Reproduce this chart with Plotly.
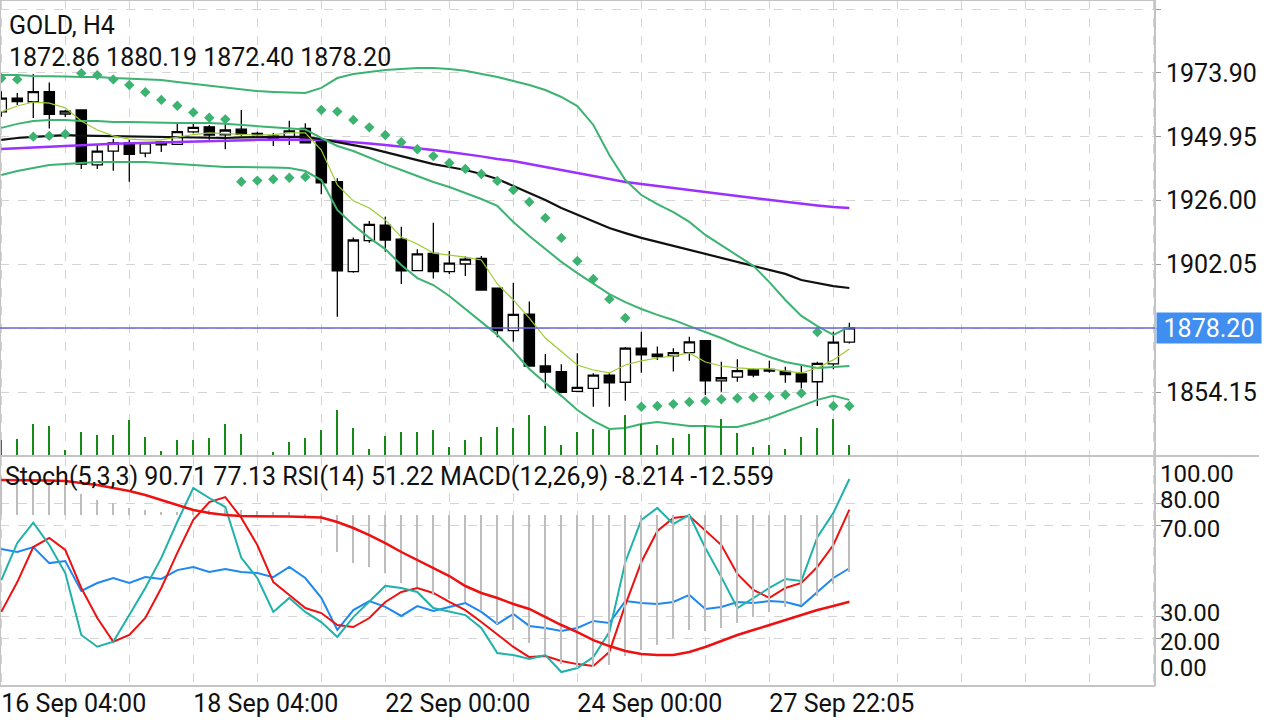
import plotly.graph_objects as go

# ---------------- data ----------------
idx = list(range(54))
opens = [1959.3,1964.5,1963.1,1966.9,1958.5,1960.0,1939.4,1944.6,1947.7,1943.8,
         1948.0,1947.1,1951.8,1953.7,1950.7,1952.8,1951.2,1950.2,1949.8,1953.1,
         1948.8,1933.1,1899.3,1911.0,1916.8,1911.5,1899.7,1906.2,1899.3,1902.2,
         1904.3,1893.1,1877.2,1883.4,1863.9,1861.8,1854.4,1855.5,1860.5,1857.8,
         1870.6,1868.4,1867.7,1868.9,1873.4,1858.3,1859.7,1862.4,1862.6,1861.9,
         1860.9,1858.0,1864.7,1872.86]
highs = [1967.0,1966.4,1973.5,1970.3,1960.0,1960.1,1946.9,1949.1,1948.8,1948.0,
         1948.4,1955.2,1955.2,1954.4,1955.0,1960.0,1951.8,1951.4,1956.0,1955.0,
         1949.1,1934.4,1912.1,1918.3,1919.9,1916.2,1907.7,1917.7,1907.1,1905.0,
         1905.2,1893.2,1895.2,1888.1,1868.4,1864.6,1868.7,1861.2,1861.2,1871.0,
         1876.8,1871.2,1870.6,1874.9,1873.7,1865.5,1866.4,1863.0,1865.9,1863.6,
         1864.2,1865.5,1876.8,1880.19]
lows = [1957.5,1961.9,1957.0,1953.1,1957.4,1937.9,1937.9,1937.2,1933.1,1942.3,
        1944.2,1946.9,1951.3,1948.8,1945.3,1950.3,1949.9,1946.5,1946.9,1947.6,
        1928.4,1882.4,1898.9,1910.2,1906.8,1894.7,1899.6,1896.8,1898.4,1897.7,
        1892.2,1874.7,1873.0,1863.7,1855.5,1853.7,1854.3,1848.6,1848.6,1850.9,
        1861.4,1866.2,1861.8,1865.9,1853.0,1854.2,1858.0,1859.7,1861.4,1857.6,
        1855.5,1848.9,1862.7,1872.40]
closes = [1964.5,1963.2,1966.9,1958.4,1959.6,1939.7,1944.6,1947.7,1943.4,1947.7,
          1946.9,1951.9,1953.5,1950.6,1952.5,1950.9,1950.8,1949.1,1952.2,1947.7,
          1932.7,1899.6,1911.2,1917.1,1911.2,1899.6,1906.0,1899.3,1902.5,1904.0,
          1892.4,1877.2,1883.3,1863.9,1861.6,1854.0,1855.9,1860.5,1857.6,1870.6,
          1868.1,1867.4,1868.9,1873.0,1858.3,1859.5,1862.2,1860.5,1862.0,1860.7,
          1858.0,1864.9,1872.86,1878.20]

bb_upper = [1973.1,1973.1,1972.8,1972.8,1972.6,1972.4,1972.4,1972.0,1971.8,1971.6,
            1971.3,1970.5,1969.8,1969.0,1968.3,1967.7,1967.1,1966.8,1966.6,1966.4,
            1968.3,1972.0,1973.5,1974.3,1975.0,1975.4,1975.8,1975.8,1975.4,1974.7,
            1973.5,1972.4,1970.9,1969.4,1967.5,1964.9,1961.5,1954.4,1943.1,1933.7,
            1928.1,1924.7,1921.7,1918.0,1913.1,1909.3,1905.2,1901.5,1895.4,1888.7,
            1882.7,1878.9,1875.6,1878.6]
bb_mid = [1953.3,1954.8,1955.9,1956.3,1956.3,1955.9,1955.9,1955.5,1955.5,1955.3,
          1955.1,1955.1,1955.1,1955.1,1954.8,1954.4,1954.0,1953.6,1953.3,1952.7,
          1949.5,1946.5,1944.6,1942.0,1939.7,1937.5,1935.2,1933.0,1931.1,1928.9,
          1926.6,1924.0,1918.0,1912.7,1907.8,1903.0,1898.8,1894.7,1890.9,1887.9,
          1885.3,1883.1,1881.2,1878.9,1876.7,1874.4,1871.8,1869.5,1867.3,1865.4,
          1864.3,1863.2,1863.5,1863.9]
bb_lower = [1935.6,1937.1,1938.2,1939.4,1939.7,1940.1,1940.5,1940.5,1940.5,1940.5,
            1940.1,1939.7,1939.4,1939.0,1938.6,1938.6,1938.6,1938.4,1938.2,1937.1,
            1933.7,1922.5,1916.8,1912.0,1907.8,1901.8,1896.9,1894.3,1890.2,1885.3,
            1880.4,1875.6,1869.5,1862.8,1857.5,1852.7,1847.4,1843.3,1840.3,1840.6,
            1842.1,1842.9,1842.1,1841.4,1841.4,1841.0,1841.0,1842.5,1844.4,1846.6,
            1848.9,1851.2,1852.7,1851.2]
ma_black = [1948.8,1949.5,1949.9,1950.3,1950.6,1950.4,1950.3,1950.1,1949.9,1949.9,
            1949.9,1949.7,1949.5,1949.5,1949.5,1949.7,1949.9,1949.9,1949.9,1949.9,
            1949.1,1948.0,1946.9,1945.7,1944.2,1942.7,1941.2,1939.7,1938.6,1937.5,
            1936.0,1934.1,1931.5,1928.9,1926.2,1923.2,1920.6,1918.0,1915.7,1913.8,
            1912.0,1910.5,1909.0,1907.5,1906.0,1904.5,1903.0,1901.5,1900.0,1898.5,
            1896.2,1895.1,1893.9,1893.2]
ma_purple = [1945.4,1945.7,1946.1,1946.3,1946.5,1946.9,1947.1,1947.3,1947.4,1947.6,
             1947.8,1948.0,1948.2,1948.4,1948.6,1948.8,1948.8,1948.9,1948.9,1948.9,
             1948.8,1948.4,1948.0,1947.4,1946.9,1946.3,1945.6,1945.0,1944.2,1943.5,
             1942.6,1941.6,1940.9,1939.7,1938.6,1937.5,1936.4,1935.2,1934.1,1933.0,
             1932.2,1931.5,1930.7,1930.0,1929.2,1928.5,1927.7,1927.0,1926.2,1925.5,
             1924.7,1924.2,1923.6,1923.2]
ma_fast = [1959.3,1961.5,1963.0,1962.6,1960.8,1955.9,1952.5,1950.3,1949.1,1948.8,
           1948.8,1949.9,1950.8,1951.4,1951.2,1950.8,1950.6,1950.8,1951.4,1951.4,
           1945.0,1931.9,1925.9,1923.2,1918.7,1912.3,1909.7,1906.3,1905.6,1904.8,
           1903.7,1894.7,1888.7,1881.9,1874.4,1869.2,1864.3,1862.4,1861.3,1864.3,
           1865.8,1866.9,1867.7,1868.8,1865.4,1863.9,1863.2,1862.8,1862.8,1862.0,
           1861.3,1863.2,1866.2,1870.3]
sar = [1971.9,1971.5,1950.0,1950.3,1951.0,1973.8,1973.1,1971.5,1969.4,1966.7,
       1963.8,1961.6,1959.1,1957.1,1956.5,1933.1,1933.5,1934.0,1934.6,1934.9,
       1960.0,1959.4,1956.3,1953.5,1950.6,1947.9,1945.3,1942.7,1940.1,1937.9,
       1936.0,1933.4,1930.0,1925.5,1919.5,1912.0,1903.3,1896.6,1889.0,1881.9,
       1848.6,1848.9,1849.6,1850.4,1850.8,1851.4,1851.8,1852.2,1852.6,1853.1,
       1853.7,1876.7,1848.9,1848.9]
volume = [1500,1650,3150,2950,500,2300,2000,2050,3500,1850,
          450,1500,1500,1700,3100,2100,0,350,1350,1700,
          2500,4500,2750,600,1950,2300,2300,2500,800,1500,
          1800,2800,2700,4000,2950,1000,2350,2600,2500,4000,
          3100,1000,1700,2100,3000,3600,2200,800,1000,600,
          1800,2700,3600,1000]

stoch_main = [46.0,62.4,71.4,61.5,49.1,21.7,16.5,18.7,30.5,42.5,
              55.8,71.8,86.7,82.3,78.3,55.8,46.9,31.9,38.1,31.9,
              27.4,20.8,29.6,36.3,43.4,42.5,40.7,33.6,31.9,30.5,
              24.8,13.7,12.8,11.1,12.8,5.3,7.1,11.9,23.0,54.0,
              72.6,77.9,70.8,74.8,60.2,47.3,33.6,38.1,42.5,46.5,
              45.6,65.0,75.7,90.71]
stoch_signal = [31.9,45.1,60.6,64.6,59.3,42.5,29.2,18.7,21.7,29.2,
                42.5,58.0,72.6,80.5,82.7,73.5,61.5,45.1,39.4,33.6,
                31.4,26.1,25.2,29.2,36.3,40.7,42.5,40.3,36.3,32.7,
                27.4,21.7,16.4,11.9,12.4,10.2,8.8,8.0,14.2,35.0,
                54.0,67.7,73.5,74.3,68.1,61.5,48.7,41.6,38.1,42.5,
                44.7,51.8,61.5,77.13]
rsi = [59.7,58.4,60.6,53.5,54.4,41.2,44.7,46.9,44.7,47.3,
       46.5,50.4,51.8,49.6,50.9,49.6,49.1,47.3,51.8,46.9,
       38.1,23.9,32.7,36.7,34.1,30.1,34.5,32.3,34.1,35.8,
       31.9,26.5,31.0,25.7,24.8,23.5,24.8,27.9,27.0,36.7,
       35.8,35.4,36.3,39.4,33.2,34.1,36.3,35.8,36.7,36.3,
       34.5,40.7,46.9,51.22]
macd_main = [5.5,5.3,5.0,4.8,4.3,3.0,2.2,1.7,1.0,0.7,
             0.4,0.5,0.7,0.8,0.9,0.8,0.6,0.4,0.4,0.1,
             -1.2,-5.4,-7.0,-7.6,-8.4,-9.8,-10.4,-11.6,-12.2,-12.6,
             -13.8,-15.8,-16.6,-18.6,-20.2,-21.6,-22.2,-22.0,-21.8,-20.4,
             -19.6,-18.8,-17.8,-16.6,-16.8,-16.4,-15.6,-14.8,-14.0,-13.4,
             -13.0,-11.8,-10.0,-8.214]
macd_signal = [5.07,5.07,5.07,5.0,4.93,4.64,4.35,3.91,3.48,2.90,
               2.17,1.45,0.72,0.29,0.0,-0.14,-0.14,-0.14,-0.22,-0.29,
               -0.36,-1.01,-1.88,-2.90,-4.06,-5.36,-6.52,-7.68,-8.84,-10.29,
               -11.30,-12.03,-12.90,-13.62,-14.78,-15.94,-16.96,-18.12,-18.99,-19.71,
               -20.14,-20.29,-20.29,-19.86,-19.13,-18.26,-17.39,-16.67,-15.94,-15.22,
               -14.49,-13.77,-13.19,-12.559]

price_ticks = [1997.85, 1973.90, 1949.95, 1926.00, 1902.05, 1878.10, 1854.15]
price_tick_text = ["", "1973.90", "1949.95", "1926.00", "1902.05", "", "1854.15"]
osc_ticks = [80, 70, 30, 20]
osc_tick_text = ["80.00", "70.00", "30.00", "20.00"]
osc_label_nudge = [3, -3, 3, -3]
time_tick_pos = list(range(0, 73, 4))
time_labels = {0: "16 Sep 04:00", 12: "18 Sep 04:00", 24: "22 Sep 00:00",
               36: "24 Sep 00:00", 48: "27 Sep 22:05"}
last_price = 1878.20
header1 = "GOLD, H4"
header2 = "1872.86 1880.19 1872.40 1878.20"
header3 = "Stoch(5,3,3) 90.71 77.13 RSI(14) 51.22 MACD(12,26,9) -8.214 -12.559"

# ---------------- figure ----------------
FONT = "Roboto"
FS = 25
TXT = "#111111"
GREEN = "#3cb371"
fig = go.Figure()

fig.add_trace(go.Bar(x=idx, y=volume, width=0.13, marker=dict(color="#168a16", line=dict(width=0)),
                     yaxis="y3", xaxis="x"))
fig.add_trace(go.Candlestick(x=idx, open=opens, high=highs, low=lows, close=closes,
                             increasing=dict(line=dict(color="black", width=1.3), fillcolor="white"),
                             decreasing=dict(line=dict(color="black", width=1.3), fillcolor="black"),
                             whiskerwidth=0, xaxis="x", yaxis="y"))
for ser, col, w in [(ma_purple, "#9b30ff", 2.5), (ma_black, "#111111", 2.2),
                    (bb_upper, GREEN, 2), (bb_mid, GREEN, 2), (bb_lower, GREEN, 2),
                    (ma_fast, "#9acd32", 1.2)]:
    fig.add_trace(go.Scatter(x=idx, y=ser, mode="lines", line=dict(color=col, width=w),
                             xaxis="x", yaxis="y"))
fig.add_trace(go.Scatter(x=idx, y=sar, mode="markers",
                         marker=dict(symbol="diamond", size=8, color=GREEN),
                         xaxis="x", yaxis="y"))

# lower panel
fig.add_trace(go.Bar(x=idx, y=macd_main, width=0.07, marker=dict(color="#bdbdbd", line=dict(width=0)),
                     xaxis="x", yaxis="y4"))
fig.add_trace(go.Scatter(x=idx, y=macd_signal, mode="lines", line=dict(color="#ee1111", width=2.5),
                         xaxis="x", yaxis="y4"))
fig.add_trace(go.Scatter(x=idx, y=rsi, mode="lines", line=dict(color="#1e88f0", width=2),
                         xaxis="x", yaxis="y2"))
fig.add_trace(go.Scatter(x=idx, y=stoch_signal, mode="lines", line=dict(color="#ee1111", width=2),
                         xaxis="x", yaxis="y2"))
fig.add_trace(go.Scatter(x=idx, y=stoch_main, mode="lines", line=dict(color="#20b2aa", width=2),
                         xaxis="x", yaxis="y2"))

W, H = 1280, 720
ML, MR, MT, MB = 0, 125, 0, 34
PH = H - MT - MB  # 686
main_bottom_px = 455
low_top_px = 457
GRID = "#d4d4d4"

fig.update_layout(
    width=W, height=H, margin=dict(l=ML, r=MR, t=MT, b=MB),
    paper_bgcolor="white", plot_bgcolor="white", showlegend=False,
    font=dict(family=FONT, size=FS, color=TXT),
    boxgap=0.2, boxgroupgap=0.2, bargap=0,
    hovermode=False,
    xaxis=dict(range=[-0.08, 72.1], anchor="y2", tickmode="array",
               tickvals=time_tick_pos,
               ticktext=[time_labels.get(t, "") for t in time_tick_pos],
               ticklabelposition="outside right", ticks="",
               showgrid=True, gridcolor=GRID, griddash="dash", gridwidth=1,
               zeroline=False, showline=False, rangeslider=dict(visible=False),
               tickfont=dict(family=FONT, size=FS, color=TXT)),
    yaxis=dict(domain=[(PH - main_bottom_px) / PH, 1], range=[1830.50, 2001.30],
               side="right", anchor="x", tickmode="array", tickvals=price_ticks,
               ticktext=price_tick_text, ticks="outside", ticklen=5, tickcolor="#999999",
               showgrid=True, gridcolor=GRID, griddash="dash", zeroline=False,
               tickfont=dict(family=FONT, size=FS, color=TXT)),
    yaxis3=dict(overlaying="y", range=[0, 45500], visible=False),
    yaxis2=dict(domain=[0, (PH - low_top_px) / PH], range=[-0.885, 100.44],
                side="right", anchor="x", tickmode="array", tickvals=osc_ticks,
                ticktext=["" for _ in osc_ticks], ticks="outside", ticklen=5, tickcolor="#999999",
                showgrid=True, gridcolor=GRID, griddash="dash", zeroline=False),
    yaxis4=dict(overlaying="y2", range=[-24.78, 8.41], visible=False),
)

# frame lines
FRAME = "#c4c4c4"
sep_y = (PH - 456) / PH
for x0, y0, x1, y1 in [(0, 0, 0, 1), (0, 1, 1, 1), (0, sep_y, 1.09, sep_y), (0, 0, 1, 0), (1, 0, 1, 1)]:
    fig.add_shape(type="line", xref="paper", yref="paper", x0=x0, y0=y0, x1=x1, y1=y1,
                  line=dict(color=FRAME, width=2), layer="above")

# current price line + label
fig.add_shape(type="line", xref="paper", yref="y", x0=0, x1=1, y0=last_price, y1=last_price,
              line=dict(color="#6a64d6", width=1.5), layer="above")
fig.add_annotation(xref="paper", yref="y", x=1, y=last_price, xanchor="left", yanchor="middle",
                   xshift=1, text=f"{last_price:.2f}", showarrow=False, bgcolor="#3f8ef0",
                   width=102, height=28, align="center",
                   font=dict(family=FONT, size=FS, color="white"))

# oscillator axis labels
for v, t, s in zip(osc_ticks, osc_tick_text, osc_label_nudge):
    fig.add_annotation(xref="paper", yref="y2", x=1, y=v, xanchor="left", yanchor="middle",
                       xshift=3, yshift=s, text=t, showarrow=False,
                       font=dict(family=FONT, size=FS - 1, color=TXT))
fig.add_annotation(xref="paper", yref="y2", x=1, y=100, xanchor="left", yanchor="top", xshift=3,
                   text="100.00", showarrow=False, font=dict(family=FONT, size=FS - 1, color=TXT))
fig.add_annotation(xref="paper", yref="y2", x=1, y=0, xanchor="left", yanchor="bottom", xshift=3,
                   text="0.00", showarrow=False, font=dict(family=FONT, size=FS - 1, color=TXT))

# headers
def px_x(p):
    return p / (W - ML - MR)

def px_y(p):
    return (PH - p) / PH

fig.add_annotation(xref="paper", yref="paper", x=px_x(7), y=px_y(25), xanchor="left", yanchor="middle",
                   text=header1, showarrow=False, font=dict(family=FONT, size=FS, color=TXT))
fig.add_annotation(xref="paper", yref="paper", x=px_x(7), y=px_y(57), xanchor="left", yanchor="middle",
                   text=header2, showarrow=False, font=dict(family=FONT, size=FS, color=TXT))
fig.add_annotation(xref="paper", yref="paper", x=px_x(3), y=px_y(477), xanchor="left", yanchor="middle",
                   text=header3, showarrow=False, font=dict(family=FONT, size=FS, color=TXT))

fig.write_html("out.html")
